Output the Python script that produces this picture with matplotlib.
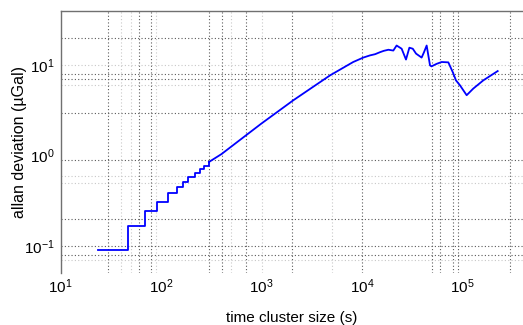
import matplotlib
matplotlib.use("Agg")
import matplotlib.pyplot as plt
from matplotlib.ticker import LogLocator, NullLocator

# staircase part (first cluster sizes)
tau_steps = [23.8, 47.3, 69.3, 91.9, 118, 143, 167, 187, 218, 244, 268, 300]
adev_steps = [0.089, 0.166, 0.244, 0.309, 0.382, 0.452, 0.513, 0.574, 0.636, 0.704, 0.76, 0.85]

# smooth part
tau_main = [300, 400, 600, 1000, 2070, 3200, 4810, 7600, 8180, 10300, 12000, 13500,
            15100, 16500, 18300, 20500, 22100, 24800, 27400, 29600, 32000, 34500,
            39200, 41400, 44000, 47500, 49100, 55300, 62100, 72300, 79900, 86100,
            94400, 110000, 128000, 161000, 224000]
adev_main = [0.85, 1.04, 1.47, 2.27, 4.10, 5.7, 7.75, 10.4, 10.9, 12.2, 12.9, 13.3,
             14.0, 14.5, 14.9, 14.6, 16.6, 15.3, 11.6, 15.7, 15.3, 13.5,
             12.2, 14.0, 16.6, 10.0, 9.75, 10.4, 10.9, 10.8, 8.44, 6.82,
             6.01, 4.67, 5.53, 6.82, 8.65]

# grid lines that show in the picture
y_grid_dark = [20, 8, 7, 3, 0.9, 0.2, 0.1, 0.08]
y_grid_light = [10, 6, 0.6, 0.5, 0.07]
x_grid_dark = [30, 60, 80, 300, 400, 700, 2000, 1e4, 5e4, 6e4, 8e4, 9e4, 3e5]
x_grid_light = [40, 50, 90, 500, 1000, 5000]

plt.rcParams["font.family"] = ["Liberation Sans", "DejaVu Sans"]
plt.rcParams["mathtext.fontset"] = "custom"
plt.rcParams["mathtext.rm"] = "Liberation Sans"
plt.rcParams["mathtext.default"] = "regular"

fig = plt.figure(figsize=(5.23, 3.25), dpi=100)
ax = fig.add_axes([0.1157, 0.16, 0.8843, 0.806])
ax.set_xscale("log")
ax.set_yscale("log")
ax.set_xlim(10, 4e5)
ax.set_ylim(0.05, 40)

dots = (0, (1, 2))
for v in y_grid_light:
    ax.axhline(v, color="#c8c8c8", lw=0.8, ls=dots, zorder=1)
for v in x_grid_light:
    ax.axvline(v, color="#c8c8c8", lw=0.8, ls=dots, zorder=1)
for v in y_grid_dark:
    ax.axhline(v, color="#5a5a5a", lw=0.8, ls=dots, zorder=1)
for v in x_grid_dark:
    ax.axvline(v, color="#5a5a5a", lw=0.8, ls=dots, zorder=1)

ax.plot(tau_steps, adev_steps, color="#0000ff", lw=1.3, drawstyle="steps-post", zorder=3)
ax.plot(tau_main, adev_main, color="#0000ff", lw=1.3, zorder=3)

ax.xaxis.set_major_locator(LogLocator(base=10, numticks=10))
ax.yaxis.set_major_locator(LogLocator(base=10, numticks=10))
ax.xaxis.set_minor_locator(NullLocator())
ax.yaxis.set_minor_locator(NullLocator())
ax.tick_params(axis="both", length=0, labelsize=11, colors="#000000")
ax.tick_params(axis="x", pad=3)
ax.tick_params(axis="y", pad=4)

for s in ["right", "bottom"]:
    ax.spines[s].set_visible(False)
for s in ["left", "top"]:
    ax.spines[s].set_color("#707070")
    ax.spines[s].set_linewidth(1.0)

ax.set_xlabel("time cluster size (s)", fontsize=11)
ax.set_ylabel("allan deviation (µGal)", fontsize=11.5)
ax.xaxis.set_label_coords(0.5, -0.145)
ax.yaxis.set_label_coords(-0.072, 0.5)

fig.savefig("out.png", dpi=100)
